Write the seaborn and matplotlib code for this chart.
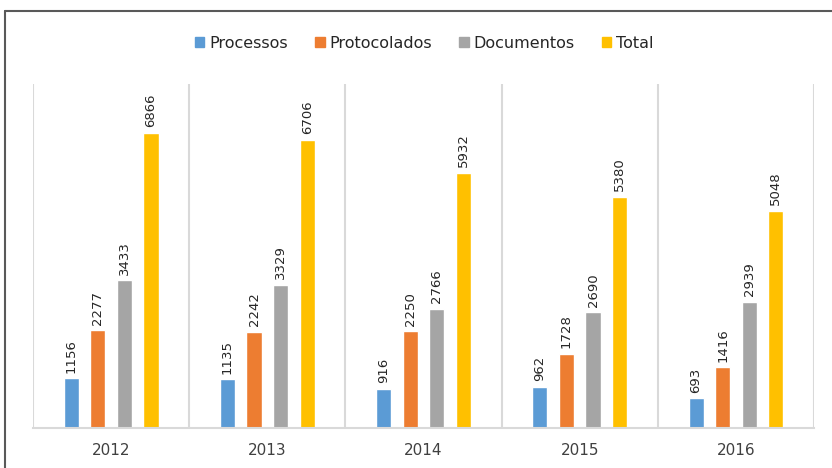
import matplotlib
matplotlib.use("Agg")
import matplotlib.pyplot as plt
import pandas as pd
import seaborn as sns
from matplotlib.lines import Line2D

years = ["2012", "2013", "2014", "2015", "2016"]
processos = [1156, 1135, 916, 962, 693]
protocolados = [2277, 2242, 2250, 1728, 1416]
documentos = [3433, 3329, 2766, 2690, 2939]
total = [6866, 6706, 5932, 5380, 5048]

series = ["Processos", "Protocolados", "Documentos", "Total"]
colors = ["#5B9BD5", "#ED7D31", "#A5A5A5", "#FFC000"]

rows = []
for name, vals in zip(series, [processos, protocolados, documentos, total]):
    for y, v in zip(years, vals):
        rows.append({"ano": y, "serie": name, "valor": v})
df = pd.DataFrame(rows)

sns.set_style("white")
plt.rcParams["font.family"] = ["DejaVu Sans"]

fig = plt.figure(figsize=(8.32, 4.68), dpi=100)
ax = fig.add_axes([0.0397, 0.0855, 0.9387, 0.7350])

sns.barplot(data=df, x="ano", y="valor", hue="serie", hue_order=series,
            palette=colors, width=0.68, gap=0.43, saturation=1, ax=ax,
            legend=False, errorbar=None)

for cont in ax.containers:
    ax.bar_label(cont, rotation=90, padding=4, fontsize=9.5, color="#262626")

ax.set_ylim(0, 8000)
ax.set_xlim(-0.5, 4.5)
ax.set_yticks([])
ax.set_xlabel("")
ax.set_ylabel("")
ax.tick_params(axis="x", length=0, pad=11, labelsize=11, labelcolor="#404040")

# category separators
ax.vlines([i - 0.5 for i in range(len(years) + 1)], 0, 8000, color="#D9D9D9", lw=1.5, zorder=0)

for s in ["top", "left", "right"]:
    ax.spines[s].set_visible(False)
ax.spines["bottom"].set_color("#D9D9D9")
ax.spines["bottom"].set_linewidth(1.5)

handles = [plt.Rectangle((0, 0), 1, 1, color=c) for c in colors]
fig.legend(handles, series, loc="center", bbox_to_anchor=(0.51, 0.908), ncol=4,
           frameon=False, fontsize=11.5, handlelength=0.6, handleheight=0.6,
           handletextpad=0.3, columnspacing=1.7, labelcolor="#262626")

# chart border (top and left visible in the crop)
fig.add_artist(Line2D([5 / 832, 1.0], [1 - 11 / 468, 1 - 11 / 468], color="#595959", lw=1.5))
fig.add_artist(Line2D([5 / 832, 5 / 832], [0, 1 - 11 / 468], color="#595959", lw=1.5))

fig.savefig("out.png", dpi=100)
